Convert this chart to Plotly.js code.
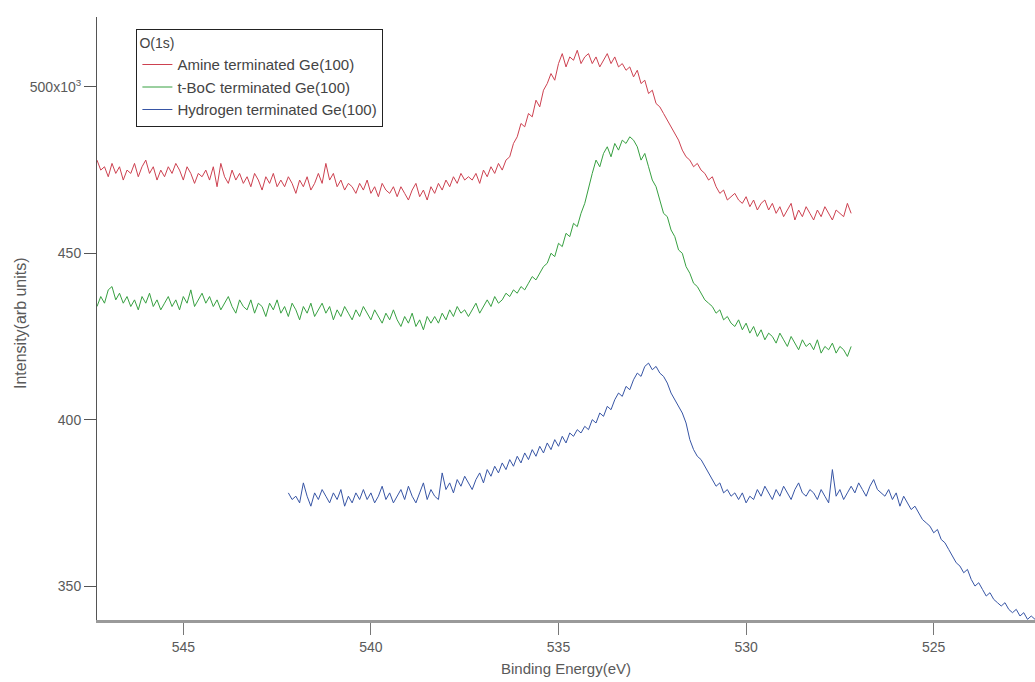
<!DOCTYPE html>
<html>
<head>
<meta charset="utf-8">
<script src="https://cdn.plot.ly/plotly-3.0.1.min.js"></script>
<style>html,body{margin:0;padding:0;background:#fff;}#chart{width:1035px;height:682px;}</style>
</head>
<body>
<div id="chart"></div>
<script>
// Binding energy grids (eV): start value and instrument step
const redStart = 547.3, greenStart = 547.3, blueStart = 542.2, energyStep = 0.1;

// Intensities in units of 10^3 counts
const amineValues = [
  478, 475, 476, 473, 477, 474, 476, 472, 475, 474,
  477, 473, 476, 478, 474, 476, 472, 475, 473, 476,
  474, 477, 475, 472, 476, 474, 471, 474, 473, 475,
  472, 476, 470, 477, 473, 471, 475, 472, 474, 471,
  473, 470, 474, 472, 469, 473, 471, 474, 470, 472,
  470, 473, 471, 468, 472, 470, 473, 469, 471, 474,
  471, 477, 472, 474, 470, 472, 469, 471, 470, 468,
  471, 469, 472, 468, 470, 467, 471, 469, 468, 470,
  467, 470, 468, 466, 469, 471, 467, 469, 466, 470,
  468, 471, 469, 472, 470, 473, 471, 474, 472, 473,
  472, 474, 471, 475, 473, 476, 474, 477, 475, 478,
  479, 483, 485, 489, 488, 492, 491, 496, 494, 499,
  501, 504, 502, 507, 510, 506, 509, 508, 511, 507,
  509, 510, 507, 509, 506, 508, 510, 507, 509, 506,
  507, 505, 506, 503, 505, 501, 502, 498, 499, 495,
  494, 492, 490, 488, 486, 484, 481, 479, 478, 476,
  477, 475, 474, 472, 473, 470, 468, 469, 466, 467,
  468, 466, 465, 467, 464, 466, 463, 465, 466, 463,
  465, 462, 464, 461, 463, 465, 460, 463, 461, 464,
  462, 460, 463, 461, 464, 462, 460, 463, 462, 461,
  465, 462
];

const tbocValues = [
  434, 437, 435, 439, 440, 436, 438, 435, 437, 434,
  436, 433, 437, 435, 438, 434, 436, 433, 435, 437,
  434, 436, 433, 437, 435, 439, 434, 436, 438, 435,
  437, 434, 436, 433, 435, 437, 434, 432, 436, 434,
  433, 436, 432, 435, 434, 431, 435, 433, 436, 432,
  434, 431, 435, 433, 430, 434, 432, 435, 431, 433,
  435, 432, 434, 430, 433, 431, 434, 432, 430, 433,
  431, 434, 432, 430, 433, 431, 429, 432, 430, 433,
  430, 428, 431, 429, 432, 428, 430, 427, 431, 429,
  431, 429, 432, 430, 433, 431, 434, 432, 433, 431,
  433, 435, 432, 434, 436, 434, 437, 435, 436, 438,
  437, 439, 438, 440, 439, 441, 443, 442, 444, 446,
  447, 450, 449, 453, 452, 456, 455, 459, 458, 462,
  465, 470, 474, 478, 476, 480, 482, 479, 483, 481,
  484, 483, 485, 484, 482, 478, 480, 476, 472, 470,
  466, 462, 461, 457, 455, 451, 450, 446, 444, 441,
  440, 438, 436, 435, 434, 432, 433, 430, 431, 429,
  428, 430, 427, 429, 426, 428, 425, 427, 424, 426,
  425, 423, 426, 424, 422, 425, 423, 421, 424, 422,
  423, 421, 424, 420, 422, 421, 423, 420, 422, 421,
  419, 422
];

const hydrogenValues = [
  378, 376, 377, 375, 381, 377, 374, 378, 376, 379,
  377, 375, 378, 376, 379, 374, 377, 375, 378, 376,
  379, 376, 378, 375, 377, 380, 376, 378, 375, 377,
  379, 376, 380, 377, 375, 378, 381, 376, 379, 377,
  376, 384, 379, 381, 378, 382, 380, 383, 381, 379,
  382, 384, 381, 385, 383, 386, 384, 387, 385, 388,
  386, 389, 387, 390, 388, 391, 389, 392, 390, 393,
  391, 394, 392, 395, 393, 396, 395, 397, 396, 398,
  397, 400, 399, 402, 401, 404, 403, 406, 408, 407,
  410, 409, 412, 414, 413, 416, 417, 415, 416, 414,
  413, 411, 408, 406, 404, 402, 399, 394, 391, 389,
  388, 386, 384, 382, 380, 381, 378, 379, 377, 378,
  376, 378, 375, 377, 376, 379, 377, 380, 378, 376,
  379, 377, 380, 378, 376, 379, 381, 378, 377, 379,
  378, 376, 379, 377, 375, 385, 377, 379, 376, 378,
  380, 378, 381, 379, 377, 380, 382, 379, 378, 377,
  379, 376, 378, 374, 377, 375, 373, 374, 372, 370,
  369, 368, 366, 367, 364, 363, 361, 359, 357, 356,
  354, 355, 352, 350, 351, 349, 347, 348, 346, 345,
  344, 345, 343, 342, 343, 341, 342, 340, 341, 340
];

const seriesNames = ["Amine terminated Ge(100)", "t-BoC terminated Ge(100)", "Hydrogen terminated Ge(100)"];
const seriesColors = ["rgb(205,65,80)", "rgb(55,160,65)", "rgb(55,85,165)"];
const xTickVals = [545, 540, 535, 530, 525];
const yTickVals = [350, 400, 450, 500];
const yTickText = ["350", "400", "450", "500x10<sup>3</sup>"];

function grid(start, n) {
  const xs = [];
  for (let i = 0; i < n; i++) xs.push(+(start - energyStep * i).toFixed(2));
  return xs;
}

const seriesData = [
  [grid(redStart, amineValues.length), amineValues],
  [grid(greenStart, tbocValues.length), tbocValues],
  [grid(blueStart, hydrogenValues.length), hydrogenValues]
];

const traces = seriesData.map((d, i) => ({
  x: d[0], y: d[1], type: "scatter", mode: "lines",
  name: seriesNames[i],
  line: {color: seriesColors[i], width: 1}
}));

const fontFam = "Liberation Sans, Arial, sans-serif";
const textCol = "#5a5a5a";
const layout = {
  width: 1035, height: 682,
  margin: {l: 97, r: 0, t: 17, b: 62},
  paper_bgcolor: "#fff", plot_bgcolor: "#fff",
  font: {family: fontFam, size: 14, color: textCol},
  showlegend: true,
  legend: {
    x: 0.042, y: 0.98, xanchor: "left", yanchor: "top",
    bgcolor: "#fff", bordercolor: "#222", borderwidth: 1,
    font: {family: fontFam, size: 15, color: "#444"},
    title: {text: "O(1s)", font: {family: fontFam, size: 14, color: "#444"}},
    tracegroupgap: 0, itemwidth: 30
  },
  xaxis: {
    range: [547.3, 522.3], autorange: false,
    tickmode: "array", tickvals: xTickVals,
    ticks: "outside", ticklen: 12, tickcolor: "#777", tickwidth: 1,
    showline: true, linecolor: "#9a9a9a", linewidth: 3,
    showgrid: false, zeroline: false, mirror: false,
    tickfont: {family: fontFam, size: 14, color: textCol},
    title: {text: "Binding Energy(eV)", font: {family: fontFam, size: 15, color: textCol}, standoff: 10}
  },
  yaxis: {
    range: [339.8, 521], autorange: false,
    tickmode: "array", tickvals: yTickVals, ticktext: yTickText,
    ticks: "outside", ticklen: 12, tickcolor: "#555", tickwidth: 1,
    showline: true, linecolor: "#555", linewidth: 1,
    showgrid: false, zeroline: false, mirror: false,
    tickfont: {family: fontFam, size: 14, color: textCol}
  },
  annotations: [{
    text: "Intensity(arb units)", textangle: -90,
    xref: "paper", yref: "paper", x: -0.0821, y: 0.4925,
    xanchor: "center", yanchor: "middle", showarrow: false,
    font: {family: fontFam, size: 16, color: textCol}
  }]
};

Plotly.newPlot("chart", traces, layout, {displayModeBar: false, staticPlot: true});
</script>
</body>
</html>
